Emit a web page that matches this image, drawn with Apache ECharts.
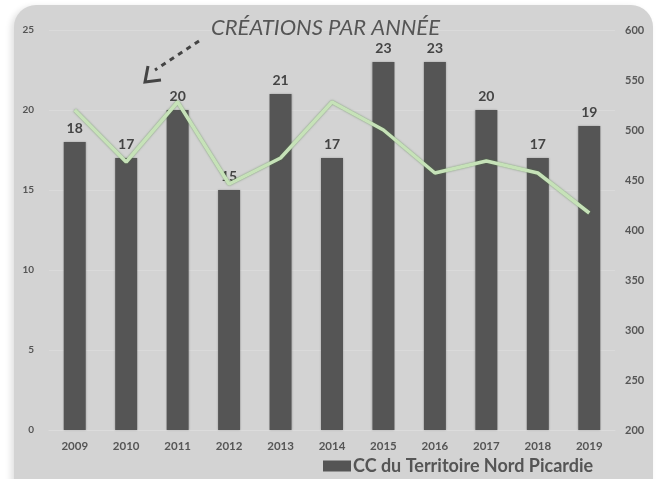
<!DOCTYPE html>
<html><head><meta charset="utf-8">
<script src="https://cdn.jsdelivr.net/npm/echarts@6/dist/echarts.min.js"></script>
<style>
html,body{margin:0;padding:0;background:#fff;width:658px;height:479px;overflow:hidden;}
#panel{position:absolute;left:14px;top:5px;width:639px;height:500px;background:#d3d3d3;border-radius:22px;box-shadow:-3px 2px 6px rgba(0,0,0,0.12);}
#chart{position:absolute;left:0;top:0;width:658px;height:479px;}
</style></head>
<body>
<div id="panel"></div>
<div id="chart"></div>
<script>
const years = ['2009','2010','2011','2012','2013','2014','2015','2016','2017','2018','2019'];
const creations = [18,17,20,15,21,17,23,23,20,17,19];
const lineValues = [520,468,528,446,472,528,500,457,469,457,417];
const leftTicks = [0,25,5];
const rightTicks = [200,600,50];

const chart = echarts.init(document.getElementById('chart'));
const font = 'Lato';
chart.setOption({
  animation:false,
  backgroundColor:'transparent',
  grid:{left:49,right:43,top:30,bottom:49},
  title:{text:'CRÉATIONS PAR ANNÉE',left:206,top:12,textStyle:{fontFamily:font,fontStyle:'italic',fontWeight:'normal',fontSize:22,color:'#555'}},
  legend:{bottom:-1,left:318,data:['CC du Territoire Nord Picardie'],itemWidth:28,itemHeight:11,itemGap:2,icon:'rect',
    textStyle:{fontFamily:font,fontSize:18,fontWeight:'bold',color:'#555',padding:[0,0,0,-3]}},
  xAxis:{type:'category',data:years,axisLine:{show:true,lineStyle:{color:'#dcdcdc',width:1}},axisTick:{show:false},
    axisLabel:{fontFamily:font,fontSize:11.5,fontWeight:'bold',color:'#555',margin:10}},
  yAxis:[
    {type:'value',min:leftTicks[0],max:leftTicks[1],interval:leftTicks[2],
     axisLabel:{fontFamily:font,fontSize:10,fontWeight:'bold',color:'#555',margin:15},
     splitLine:{lineStyle:{color:'#dadada',width:1}},axisLine:{show:false},axisTick:{show:false}},
    {type:'value',min:rightTicks[0],max:rightTicks[1],interval:rightTicks[2],position:'right',
     axisLabel:{fontFamily:font,fontSize:11,fontWeight:'bold',color:'#555',margin:10},
     splitLine:{show:false},axisLine:{show:false},axisTick:{show:false}}
  ],
  series:[
    {name:'CC du Territoire Nord Picardie',type:'bar',data:creations,barWidth:22,
     itemStyle:{color:'#555555',shadowColor:'rgba(0,0,0,0.25)',shadowBlur:2},
     label:{show:true,position:'top',distance:7,fontFamily:font,fontSize:14,fontWeight:'bold',color:'#444'}},
    {name:'line',type:'line',yAxisIndex:1,data:lineValues,symbol:'none',z:5,
     lineStyle:{color:'#c6e2b8',width:3.5,shadowColor:'rgba(80,120,70,0.7)',shadowBlur:2}}
  ],
  graphic:[
    {type:'line',shape:{x1:199,y1:41,x2:155,y2:70},style:{stroke:'#444',lineWidth:3,lineDash:[5,5]}},
    {type:'polyline',shape:{points:[[148,66],[145,82],[161,80]]},style:{stroke:'#444',lineWidth:3,fill:null}}
  ]
});
</script>
</body></html>
